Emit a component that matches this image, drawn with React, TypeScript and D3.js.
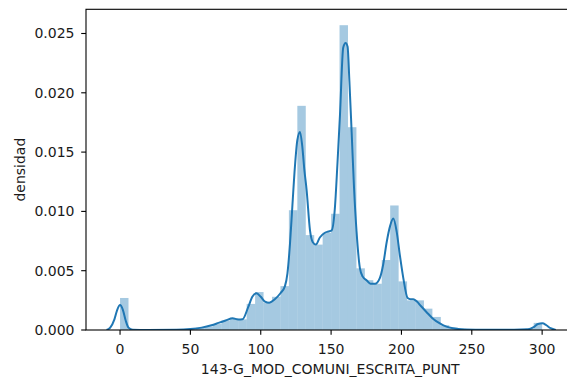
import React from "react";
import * as d3 from "d3";

const BIN_START = 0;
const BIN_WIDTH = 6;
const histDensity = [
  0.0027, 0, 0, 0, 0, 0, 0, 0, 0.00005, 0.0002,
  0.0003, 0.0005, 0.0008, 0.001, 0.0009, 0.0022, 0.0032, 0.0023, 0.0028, 0.0037,
  0.0101, 0.0189, 0.008, 0.0072, 0.0082, 0.0098, 0.0257, 0.0171, 0.0052, 0.0042,
  0.0039, 0.0059, 0.0105, 0.0041, 0.0025, 0.0025, 0.0018, 0.0011, 0.0004, 0.0002,
  0.0001, 0.00005, 0, 0, 0, 0, 0, 0, 0.0001, 0.0006,
];

const kdeX = [
  -9.6, -7, -4, -2, 0, 2, 4, 6, 9, 20, 40, 50, 58, 65, 70, 75, 80, 84, 87, 91, 94, 97, 100, 103, 106,
  110, 114, 117.2, 119, 120.8, 122.5, 124.3, 126, 127.9, 129.5, 131, 132.6, 135, 137, 139.2, 142,
  145.6, 148, 150.4, 152.7, 154.5, 156.3, 158.6, 160.3, 161.7, 163, 164.6, 166.3, 168.1, 170.5,
  172.5, 175.2, 178, 181.2, 184.7, 187, 189.5, 192, 194.2, 196.6, 199, 201.3, 204.4, 206.5, 208.4,
  211, 214, 217.9, 222, 227.3, 232, 236.8, 245, 260, 280, 290, 294, 297, 300.2, 303, 306, 309.7,
];
const kdeY = [
  0, 0.0002, 0.0009, 0.0017, 0.0021, 0.0017, 0.0008, 0.0002, 0.00002, 0, 0.00002, 0.00008, 0.0002,
  0.0004, 0.0006, 0.0008, 0.001, 0.00088, 0.0009, 0.0019, 0.0028, 0.0031, 0.0028, 0.0024, 0.0023,
  0.0026, 0.0031, 0.0037, 0.0048, 0.0073, 0.0105, 0.0138, 0.016, 0.0167, 0.0155, 0.0135, 0.0118,
  0.0084, 0.0074, 0.0072, 0.0078, 0.0082, 0.0083, 0.0084, 0.0103, 0.014, 0.0181, 0.0238, 0.0242,
  0.0239, 0.021, 0.0167, 0.012, 0.0083, 0.0052, 0.0045, 0.0042, 0.0039, 0.0039, 0.0044, 0.0055,
  0.0074, 0.0088, 0.0094, 0.0083, 0.0062, 0.0044, 0.0027, 0.0026, 0.0026, 0.0024, 0.002, 0.0015,
  0.001, 0.00056, 0.00028, 0.00014, 0.00005, 0.00002, 0.00002, 0.00006, 0.00025, 0.0005, 0.00056,
  0.0004, 0.00015, 0,
];

const xTicks = [0, 50, 100, 150, 200, 250, 300];
const yTicks = [0, 0.005, 0.01, 0.015, 0.02, 0.025];
const xLabel = "143-G_MOD_COMUNI_ESCRITA_PUNT";
const yLabel = "densidad";

export default function App() {
  const W = 567, H = 381;
  const left = 86, right = 574.5, top = 9.3, bottom = 330;
  const x = d3.scaleLinear().domain([-24.2, 323]).range([left, right]);
  const y = d3.scaleLinear().domain([0, 0.02704]).range([bottom, top]);
  const font = "'DejaVu Sans', sans-serif";
  const text = "#1a1a1a";
  const fs = 14;
  const line = d3
    .line<number>()
    .x((_, i) => x(kdeX[i]))
    .y((d) => y(d))
    .curve(d3.curveMonotoneX);

  return (
    <svg
      width={W}
      height={H}
      style={{ position: "absolute", left: 0, top: 0, background: "#fff" }}
      fontFamily={font}
    >
      <defs>
        <clipPath id="plot">
          <rect x={left} y={top} width={right - left} height={bottom - top} />
        </clipPath>
      </defs>
      <g clipPath="url(#plot)">
        {histDensity.map((d, i) => {
          const x0 = x(BIN_START + i * BIN_WIDTH);
          const x1 = x(BIN_START + (i + 1) * BIN_WIDTH);
          return (
            <rect
              key={i}
              x={x0}
              width={x1 - x0}
              y={y(d)}
              height={y(0) - y(d)}
              fill="#1f77b4"
              fillOpacity={0.4}
            />
          );
        })}
        <path d={line(kdeY) || ""} fill="none" stroke="#1f77b4" strokeWidth={2} />
      </g>
      <rect
        x={left}
        y={top}
        width={right - left}
        height={bottom - top}
        fill="none"
        stroke="#000"
        strokeWidth={1.1}
      />
      {xTicks.map((t) => (
        <g key={t}>
          <line x1={x(t)} x2={x(t)} y1={bottom} y2={bottom + 4.8} stroke="#000" strokeWidth={1.1} />
          <text x={x(t)} y={354.3} textAnchor="middle" fontSize={fs} fill={text}>
            {t}
          </text>
        </g>
      ))}
      {yTicks.map((t) => (
        <g key={t}>
          <line x1={left - 4.8} x2={left} y1={y(t)} y2={y(t)} stroke="#000" strokeWidth={1.1} />
          <text x={74.5} y={y(t) + 5} textAnchor="end" fontSize={fs} fill={text}>
            {d3.format(".3f")(t)}
          </text>
        </g>
      ))}
      <text x={(left + right) / 2} y={373.5} textAnchor="middle" fontSize={fs} fill={text}>
        {xLabel}
      </text>
      <text
        transform={`translate(24.5, ${(top + bottom) / 2}) rotate(-90)`}
        textAnchor="middle"
        fontSize={fs}
        fill={text}
      >
        {yLabel}
      </text>
    </svg>
  );
}
